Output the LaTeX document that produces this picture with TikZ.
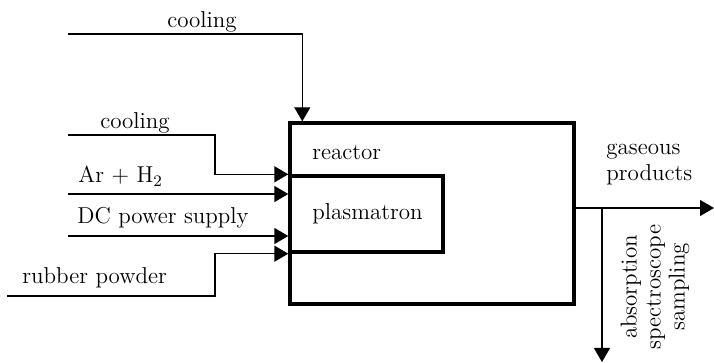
\documentclass[tikz,border=0pt]{standalone}
\usetikzlibrary{arrows.meta,calc}
\begin{document}
\begin{tikzpicture}[x=0.5pt,y=-0.5pt,
  every node/.style={font=\fontsize{11.5}{13}\selectfont},
  boxnode/.style={draw,line width=1.7pt,inner sep=0pt},
  arr/.style={line width=0.7pt,-{Triangle[length=7pt,width=8pt]}},
  lbl/.style={inner sep=0pt}]
\useasboundingbox (0,0) rectangle (714,363);
\node[boxnode,minimum width=142pt,minimum height=90.5pt] (reactor) at (432,213.5) {};
\node[boxnode,minimum width=76.5pt,minimum height=38pt] (plasmatron) at (366.5,214) {};
% labels
\node[lbl] (t1) at (202,22) {cooling};
\node[lbl] (t2) at (135,123) {cooling};
\node[lbl,anchor=west] (t3) at (78,176) {Ar + H$_2$};
\node[lbl,anchor=west] (t4) at (77,218) {DC power supply};
\node[lbl,anchor=west] (t5) at (22,278) {rubber powder};
\node[lbl,anchor=west] (t6) at (312,153) {reactor};
\node[lbl,anchor=west] (t7) at (312,214) {plasmatron};
\node[lbl,anchor=west,align=left] (t8) at (606,165) {gaseous\\products};
\node[lbl,rotate=90,align=center,font=\fontsize{11.5}{12}\selectfont] (t9) at (655,287) {absorption\\spectroscope\\sampling};
% inputs
\coordinate (c1) at (68,34);
\coordinate (c2) at (68,135);
\coordinate (c3) at (68,194);
\coordinate (c4) at (68,236);
\coordinate (c5) at (7,296);
\draw[arr] (c1) -| ([xshift=7pt]reactor.north west);
\draw[arr] (c2) -- ++(147,0) |- (plasmatron.north west);
\draw[arr] (c3) -- (c3 -| reactor.west);
\draw[arr] (c4) -- (c4 -| reactor.west);
\draw[arr] (c5) -- ++(208,0) |- (plasmatron.south west);
% outputs
\coordinate (o1) at (714,208);
\coordinate (b) at (602,208);
\coordinate (o2) at (602,362);
\draw[arr] (reactor.east |- o1) -- (o1);
\draw[arr] (b) -- (o2);
\end{tikzpicture}
\end{document}
